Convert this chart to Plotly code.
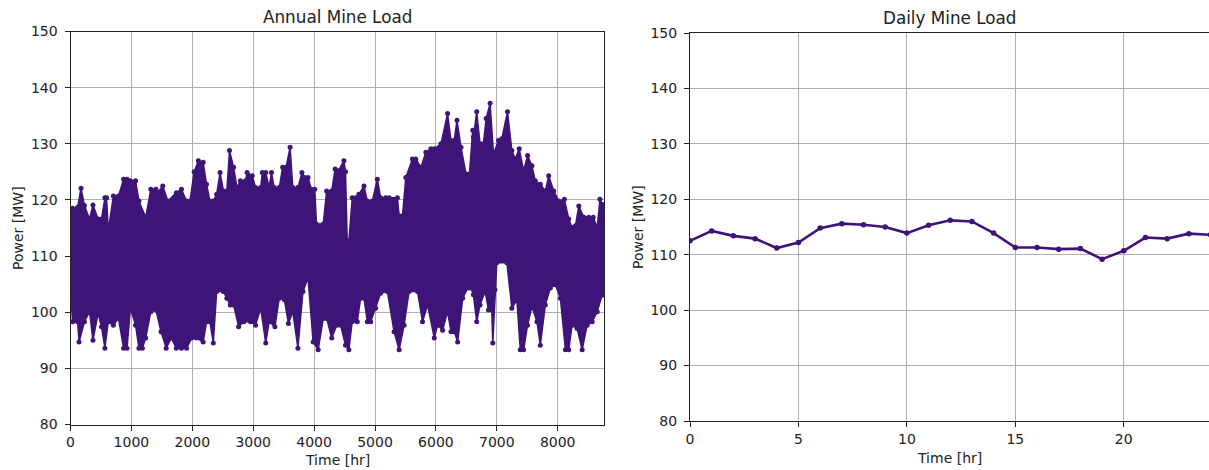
import plotly.graph_objects as go

# ---------------- data ----------------
# Annual load: upper envelope of the hourly series (hour, MW)
annual_hi_hours = [0, 34, 117, 173, 229, 313, 369, 453, 509, 565, 593, 620, 704, 788, 872, 928, 984,
                   1068, 1124, 1235, 1319, 1403, 1431, 1515, 1599, 1738, 1822, 1906, 1962, 2030,
                   2100, 2178, 2234, 2289, 2345, 2400, 2456, 2511, 2567, 2611, 2678, 2734, 2789,
                   2873, 2900, 2984, 3039, 3123, 3150, 3206, 3261, 3300, 3345, 3428, 3484, 3539,
                   3606, 3650, 3734, 3800, 3845, 3900, 3956, 4011, 4039, 4150, 4206, 4289, 4345,
                   4400, 4489, 4516, 4544, 4571, 4626, 4681, 4736, 4819, 4874, 4956, 5038, 5093,
                   5176, 5231, 5368, 5396, 5451, 5506, 5615, 5670, 5753, 5835, 5918, 5973, 6083,
                   6192, 6247, 6302, 6346, 6412, 6495, 6550, 6605, 6615, 6670, 6725, 6780, 6824,
                   6890, 6945, 7027, 7082, 7176, 7247, 7302, 7368, 7440, 7505, 7577, 7632, 7714,
                   7797, 7852, 7934, 8017, 8110, 8181, 8236, 8291, 8346, 8429, 8511, 8583, 8649,
                   8693, 8731, 8760]
annual_hi_mw = [117.8, 118.5, 118.7, 122.1, 119.0, 116.6, 119.1, 116.6, 116.6, 120.4, 120.4, 114.5,
                120.7, 120.7, 123.7, 123.7, 123.4, 123.4, 119.8, 116.9, 121.9, 121.9, 121.3, 122.5,
                119.8, 121.3, 121.9, 119.8, 119.8, 125.0, 127.0, 126.7, 122.8, 119.8, 119.8, 121.0,
                124.9, 121.6, 121.6, 128.8, 125.8, 122.2, 123.4, 123.4, 124.9, 124.3, 122.2, 122.2,
                124.9, 124.9, 122.2, 124.9, 122.2, 122.2, 125.8, 125.8, 129.4, 122.2, 122.2, 124.9,
                124.0, 124.0, 121.9, 121.9, 115.7, 115.7, 121.6, 121.6, 125.5, 125.2, 127.0, 125.0,
                112.7, 112.7, 120.4, 120.4, 121.0, 122.5, 119.8, 119.8, 123.7, 120.4, 120.4, 120.4,
                120.4, 117.2, 117.2, 124.0, 127.3, 127.3, 125.8, 128.5, 129.1, 129.1, 130.0, 135.4,
                130.6, 130.6, 134.2, 129.4, 124.6, 124.6, 132.4, 131.2, 135.7, 130.0, 130.0, 134.5,
                137.2, 128.2, 130.6, 130.9, 135.7, 128.8, 127.3, 129.1, 125.2, 127.9, 126.1, 123.4,
                122.8, 121.6, 124.3, 121.6, 119.8, 120.1, 116.6, 115.1, 115.4, 118.9, 116.9, 116.9,
                116.9, 115.1, 120.1, 119.2, 119.0]

# Annual load: lower envelope of the hourly series (hour, MW)
annual_lo_hours = [0, 34, 117, 140, 229, 313, 369, 453, 509, 565, 620, 704, 788, 872, 928, 984,
                   1068, 1124, 1180, 1235, 1319, 1403, 1487, 1571, 1655, 1738, 1822, 1906, 1990,
                   2067, 2178, 2234, 2289, 2345, 2400, 2511, 2567, 2623, 2678, 2761, 2845, 2956,
                   3039, 3123, 3206, 3261, 3356, 3428, 3512, 3578, 3650, 3734, 3817, 3900, 3984,
                   4067, 4150, 4206, 4289, 4373, 4434, 4516, 4571, 4626, 4709, 4764, 4819, 4874,
                   4929, 5011, 5093, 5203, 5313, 5396, 5478, 5560, 5698, 5780, 5863, 5973, 6028,
                   6110, 6192, 6247, 6302, 6357, 6440, 6522, 6577, 6615, 6670, 6725, 6807, 6863,
                   6917, 6934, 6970, 7000, 7165, 7247, 7330, 7385, 7440, 7505, 7577, 7659, 7714,
                   7797, 7879, 7962, 8044, 8126, 8181, 8236, 8319, 8401, 8484, 8566, 8649, 8731,
                   8760]
annual_lo_mw = [103.7, 98.3, 98.3, 94.7, 98.3, 100.1, 95.0, 99.8, 97.4, 93.6, 98.3, 97.7, 98.9,
                93.6, 93.6, 100.7, 97.7, 93.6, 93.6, 95.4, 100.1, 100.4, 96.5, 93.6, 95.4, 93.6,
                93.6, 93.6, 95.4, 95.4, 94.7, 98.3, 98.3, 94.5, 103.7, 103.7, 102.5, 101.3, 101.3,
                97.4, 98.3, 98.3, 97.7, 100.7, 94.5, 98.3, 97.4, 102.5, 102.2, 98.0, 100.1, 93.6,
                103.7, 106.1, 94.7, 93.3, 98.9, 98.9, 95.4, 97.7, 97.7, 94.1, 93.3, 98.3, 98.3,
                102.5, 102.5, 98.3, 98.3, 100.7, 103.4, 103.7, 96.5, 93.3, 97.7, 103.7, 103.7,
                98.3, 101.3, 95.4, 97.7, 96.8, 100.1, 96.5, 96.5, 94.7, 102.5, 104.3, 104.3, 103.1,
                98.3, 101.3, 103.7, 100.4, 100.4, 94.5, 104.0, 108.8, 108.8, 100.7, 102.2, 93.3,
                93.3, 97.7, 101.0, 98.3, 94.1, 101.3, 104.3, 104.9, 102.5, 93.3, 93.3, 97.7, 97.1,
                93.3, 97.7, 98.3, 100.1, 103.1, 103.0]

# Daily load profile
daily_hours = list(range(25))
daily_mw = [112.5, 114.3, 113.4, 112.9, 111.2, 112.2, 114.8, 115.6, 115.4, 115.0, 113.9, 115.3,
            116.2, 116.0, 113.9, 111.3, 111.3, 111.0, 111.1, 109.2, 110.7, 113.1, 112.9, 113.8,
            113.6]

annual_xticks = [0, 1000, 2000, 3000, 4000, 5000, 6000, 7000, 8000]
daily_xticks = [0, 5, 10, 15, 20]
power_yticks = [80, 90, 100, 110, 120, 130, 140, 150]

# ---------------- style ----------------
W, H = 1209, 470
PURPLE = "#3f1479"
FONT = "DejaVu Sans"
GRID = "#b0b0b0"


def px(x):
    return x / W


def py(y):
    return 1 - y / H


fig = go.Figure()

fig.add_trace(go.Scatter(x=annual_lo_hours, y=annual_lo_mw, mode="lines+markers",
                         line=dict(color=PURPLE, width=1.5), marker=dict(color=PURPLE, size=5),
                         xaxis="x", yaxis="y", showlegend=False, hoverinfo="skip"))
fig.add_trace(go.Scatter(x=annual_hi_hours, y=annual_hi_mw, mode="lines+markers",
                         line=dict(color=PURPLE, width=1.5), marker=dict(color=PURPLE, size=5),
                         fill="tonexty", fillcolor=PURPLE,
                         xaxis="x", yaxis="y", showlegend=False, hoverinfo="skip"))

fig.add_trace(go.Scatter(x=daily_hours, y=daily_mw, mode="lines+markers",
                         line=dict(color=PURPLE, width=2.6), marker=dict(color=PURPLE, size=5.5),
                         xaxis="x2", yaxis="y2", showlegend=False))

axis_common = dict(showline=True, linecolor="#222", linewidth=1, ticks="outside", ticklen=5,
                   tickwidth=1, tickcolor="#222", showgrid=True, gridcolor=GRID, gridwidth=1,
                   zeroline=False, automargin=False,
                   tickfont=dict(family=FONT, size=14, color="#222"))

fig.update_layout(
    width=W, height=H, margin=dict(l=0, r=0, t=0, b=0, autoexpand=False),
    paper_bgcolor="white", plot_bgcolor="white",
    font=dict(family=FONT, color="#222"),
    xaxis=dict(domain=[px(70.5), px(604)], range=[0, 8760], tickvals=annual_xticks,
               mirror=True, anchor="y", **axis_common),
    yaxis=dict(domain=[py(424.5), py(31.5)], range=[80, 150], tickvals=power_yticks,
               mirror=True, anchor="x", ticklabelstandoff=4, **axis_common),
    xaxis2=dict(domain=[px(690), 1.0], range=[0, 23.93], tickvals=daily_xticks,
                mirror=True, anchor="y2", **axis_common),
    yaxis2=dict(domain=[py(421), py(33)], range=[80, 150], tickvals=power_yticks,
                mirror=False, anchor="x2", ticklabelstandoff=4, **axis_common),
)

ann = []
ann.append(dict(text="Annual Mine Load", x=px(337), y=py(17), xref="paper", yref="paper",
                showarrow=False, font=dict(family=FONT, size=16.8, color="#222"),
                xanchor="center", yanchor="middle"))
ann.append(dict(text="Daily Mine Load", x=px(950), y=py(18), xref="paper", yref="paper",
                showarrow=False, font=dict(family=FONT, size=16.8, color="#222"),
                xanchor="center", yanchor="middle"))
ann.append(dict(text="Time [hr]", x=px(337), y=py(460), xref="paper", yref="paper",
                showarrow=False, font=dict(family=FONT, size=14, color="#222"),
                xanchor="center", yanchor="middle"))
ann.append(dict(text="Time [hr]", x=px(949), y=py(458), xref="paper", yref="paper",
                showarrow=False, font=dict(family=FONT, size=14, color="#222"),
                xanchor="center", yanchor="middle"))
ann.append(dict(text="Power [MW]", x=px(18), y=py(228), xref="paper", yref="paper",
                showarrow=False, textangle=-90, font=dict(family=FONT, size=14, color="#222"),
                xanchor="center", yanchor="middle"))
ann.append(dict(text="Power [MW]", x=px(638), y=py(227), xref="paper", yref="paper",
                showarrow=False, textangle=-90, font=dict(family=FONT, size=14, color="#222"),
                xanchor="center", yanchor="middle"))
fig.update_layout(annotations=ann)

fig.write_html("out.html")
